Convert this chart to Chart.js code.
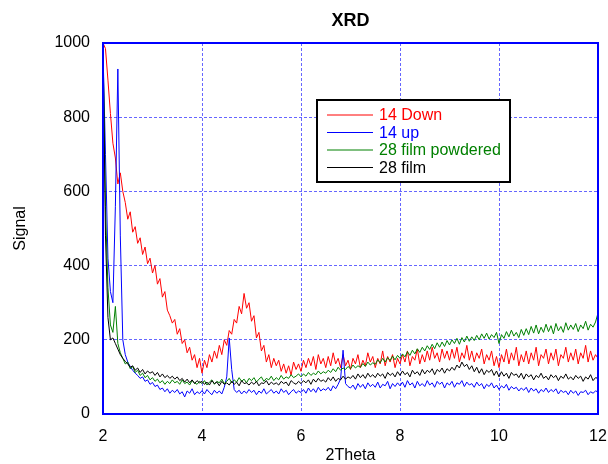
<!DOCTYPE html>
<html>
<head>
<meta charset="utf-8">
<title>XRD</title>
<script src="https://cdn.jsdelivr.net/npm/chart.js@4.4.0/dist/chart.umd.min.js"></script>
<style>
    html, body { margin: 0; padding: 0; background: #fff; }
    canvas { display: block; }
</style>
</head>
<body>
<canvas id="xrdChart" width="608" height="464"></canvas>
<script>
// 2Theta sampling: 2.00 .. 12.00 every 0.05
const angleStart = 2;
const angleStep = 0.05;

const xTicks = [2, 4, 6, 8, 10, 12];
const yTicks = [0, 200, 400, 600, 800, 1000];

const seriesNames = ["14 Down", "14 up", "28 film powdered", "28 film"];
const seriesColors = ["#ff0000", "#0000ff", "#008000", "#000000"];

// 14 Down (each row = 0.5 of 2Theta)
const down14 = [
    1000, 985, 900, 810, 730, 690, 620, 650, 600, 570,
    525, 545, 490, 505, 460, 475, 430, 450, 405, 420,
    380, 400, 350, 365, 315, 330, 280, 265, 245, 255,
    215, 230, 190, 200, 165, 180, 145, 160, 125, 150,
    110, 145, 125, 160, 140, 170, 150, 185, 160, 200,
    185, 225, 215, 255, 245, 290, 270, 325, 285, 300,
    250, 265, 205, 220, 170, 185, 140, 160, 125, 150,
    130, 145, 115, 135, 110, 130, 105, 140, 120, 135,
    115, 145, 125, 150, 130, 155, 120, 160, 135, 150,
    125, 155, 130, 165, 135, 150, 125, 160, 130, 145,
    120, 150, 135, 160, 125, 145, 130, 165, 140, 155,
    125, 150, 135, 170, 130, 155, 140, 160, 125, 150,
    135, 160, 140, 170, 130, 155, 145, 175, 135, 160,
    140, 170, 145, 180, 150, 165, 140, 175, 150, 170,
    145, 175, 150, 180, 140, 165, 150, 185, 145, 170,
    140, 165, 150, 175, 135, 160, 145, 170, 130, 155,
    125, 160, 140, 175, 135, 165, 145, 180, 130, 160,
    140, 170, 135, 165, 145, 180, 130, 160, 150, 175,
    135, 165, 145, 175, 130, 160, 150, 180, 140, 165,
    145, 175, 135, 165, 150, 185, 140, 170, 145, 160,
    150
];

// 14 up
const up14 = [
    980, 700, 420, 330, 300, 560, 930, 480, 200, 160,
    140, 128, 118, 110, 104, 96, 100, 88, 92, 80,
    85, 74, 78, 66, 70, 60, 68, 56, 64, 58,
    66, 54, 60, 46, 62, 56, 68, 52, 60, 55,
    63, 54, 66, 58, 52, 64, 56, 62, 54, 72,
    100, 205, 120, 66, 58, 64, 54, 62, 56, 66,
    58, 64, 52, 62, 56, 68, 54, 60, 66, 56,
    62, 54, 68, 58, 64, 52, 60, 66, 56, 62,
    58, 66, 56, 70, 60, 68, 58, 72, 62, 68,
    64, 72, 62, 76, 68, 80, 95, 172, 82, 74,
    70, 78, 66, 82, 72, 80, 68, 84, 74, 80,
    72, 86, 70, 80, 76, 88, 68, 82, 74, 84,
    76, 86, 72, 90, 78, 84, 70, 88, 76, 82,
    74, 90, 78, 84, 72, 88, 80, 86, 70, 84,
    78, 88, 72, 84, 80, 90, 74, 86, 78, 82,
    72, 86, 76, 82, 68, 80, 74, 84, 70, 78,
    66, 76, 70, 80, 64, 74, 68, 72, 62, 70,
    64, 72, 58, 70, 62, 68, 56, 66, 60, 70,
    58, 66, 60, 68, 54, 64, 58, 62, 52, 64,
    56, 62, 50, 60, 58, 64, 52, 60, 56, 62,
    60
];

// 28 film powdered
const filmPowdered28 = [
    1000, 560, 340, 240, 220, 290, 190, 165, 150, 135,
    140, 122, 128, 112, 118, 104, 110, 98, 104, 92,
    98, 88, 94, 84, 90, 80, 88, 82, 92, 84,
    88, 80, 92, 82, 86, 78, 90, 84, 80, 88,
    82, 90, 78, 86, 92, 80, 88, 84, 94, 82,
    88, 96, 84, 92, 86, 98, 88, 94, 84, 96,
    90, 98, 86, 94, 100, 88, 96, 92, 102, 90,
    98, 92, 104, 94, 100, 96, 106, 98, 102, 108,
    100, 108, 102, 112, 104, 110, 106, 116, 108, 114,
    110, 118, 112, 122, 114, 126, 118, 124, 120, 128,
    122, 132, 124, 130, 126, 136, 128, 140, 132, 138,
    134, 146, 138, 150, 140, 152, 144, 156, 146, 158,
    150, 162, 154, 168, 158, 172, 162, 176, 166, 180,
    170, 184, 174, 188, 176, 192, 180, 194, 182, 198,
    186, 200, 190, 204, 188, 206, 194, 210, 196, 208,
    198, 212, 200, 216, 204, 218, 202, 214, 206, 220,
    190, 214, 204, 222, 208, 226, 210, 220, 206, 228,
    212, 230, 214, 236, 218, 240, 216, 234, 220, 242,
    222, 238, 216, 244, 224, 236, 220, 246, 226, 240,
    228, 244, 222, 240, 230, 250, 226, 242, 234, 248,
    272
];

// 28 film
const film28 = [
    1000, 480, 260, 200, 205, 190, 175, 160, 150, 142,
    135, 126, 130, 118, 124, 112, 120, 108, 116, 110,
    114, 104, 112, 100, 108, 98, 104, 96, 102, 94,
    100, 90, 96, 86, 94, 84, 92, 82, 90, 84,
    88, 80, 86, 78, 90, 82, 86, 76, 88, 80,
    84, 78, 88, 80, 86, 76, 90, 82, 84, 78,
    86, 80, 88, 76, 84, 82, 90, 78, 86, 80,
    84, 78, 88, 82, 86, 76, 90, 84, 80, 88,
    82, 90, 84, 92, 80, 94, 86, 96, 88, 92,
    86, 98, 90, 100, 88, 96, 92, 102, 94, 100,
    96, 104, 94, 108, 98, 106, 96, 110, 100, 106,
    98, 110, 102, 108, 96, 112, 104, 110, 100, 114,
    104, 116, 106, 112, 100, 118, 108, 114, 104, 120,
    108, 118, 112, 122, 106, 120, 114, 124, 110, 122,
    116, 126, 118, 132, 124, 140, 128, 134, 120, 130,
    114, 126, 110, 122, 106, 118, 112, 120, 104, 116,
    100, 114, 102, 110, 96, 112, 104, 108, 98, 110,
    94, 108, 100, 106, 92, 104, 98, 110, 96, 102,
    92, 106, 98, 104, 90, 102, 96, 108, 94, 100,
    92, 104, 96, 102, 88, 100, 94, 106, 90, 98,
    96
];

const seriesValues = [down14, up14, filmPowdered28, film28];

const fontFamily = "'Liberation Sans', Arial, Helvetica, sans-serif";
const gridBlue = "rgba(0, 0, 255, 0.6)";

function toPoints(values) {
    return values.map((v, i) => ({ x: angleStart + i * angleStep, y: v }));
}

// frame on top/right + boxed legend inside plot
const framePlugin = {
    id: "frameAndLegend",
    afterDatasetsDraw(chart) {
        const { ctx, chartArea } = chart;
        ctx.save();
        ctx.strokeStyle = "#0000ff";
        ctx.lineWidth = 2;
        ctx.strokeRect(chartArea.left, chartArea.top, chartArea.right - chartArea.left, chartArea.bottom - chartArea.top);

        // legend box
        const bx = chartArea.left + 214;
        const by = chartArea.top + 57;
        const bw = 193;
        const bh = 82;
        ctx.fillStyle = "#ffffff";
        ctx.fillRect(bx, by, bw, bh);
        ctx.strokeStyle = "#000000";
        ctx.lineWidth = 2;
        ctx.strokeRect(bx, by, bw, bh);

        ctx.font = "16px " + fontFamily;
        ctx.textBaseline = "middle";
        ctx.textAlign = "left";
        seriesNames.forEach((name, i) => {
            const rowY = by + 15 + i * 17.5;
            ctx.strokeStyle = seriesColors[i];
            ctx.lineWidth = 1;
            ctx.beginPath();
            ctx.moveTo(bx + 10, rowY);
            ctx.lineTo(bx + 56, rowY);
            ctx.stroke();
            ctx.fillStyle = seriesColors[i];
            ctx.fillText(name, bx + 62, rowY + 1);
        });
        ctx.restore();
    }
};

const ctx = document.getElementById("xrdChart").getContext("2d");

const datasets = seriesNames.map((name, i) => ({
    label: name,
    data: toPoints(seriesValues[i]),
    borderColor: seriesColors[i],
    borderWidth: 1,
    pointRadius: 0,
    fill: false,
    tension: 0,
    order: seriesNames.length - 1 - i
}));

const xrdChart = new Chart(ctx, {
    type: "line",
    data: { datasets: datasets },
    options: {
        responsive: false,
        animation: false,
        layout: { padding: { left: 0, right: 10, top: 0, bottom: 0 } },
        plugins: {
            legend: { display: false },
            tooltip: { enabled: false },
            title: {
                display: true,
                text: "XRD",
                color: "#000",
                fullSize: false,
                font: { family: fontFamily, size: 18, weight: "bold", lineHeight: 1.2 },
                padding: { top: 10, bottom: 11.4 }
            }
        },
        scales: {
            x: {
                type: "linear",
                min: 2,
                max: 12,
                afterBuildTicks: (scale) => { scale.ticks = xTicks.map(v => ({ value: v })); },
                afterFit: (scale) => {
                    scale.height = 50;
                    scale.paddingLeft = 0;
                    scale.paddingRight = 0;
                },
                ticks: {
                    color: "#000",
                    padding: 13,
                    maxRotation: 0,
                    font: { family: fontFamily, size: 16 },
                    callback: (v) => String(v)
                },
                grid: { color: gridBlue, lineWidth: 1, drawTicks: false },
                border: { color: "#0000ff", width: 2, dash: [3, 2] },
                title: {
                    display: true,
                    text: "2Theta",
                    color: "#000",
                    font: { family: fontFamily, size: 16, lineHeight: 1 },
                    padding: { top: 0, bottom: 0 }
                }
            },
            y: {
                min: 0,
                max: 1000,
                afterBuildTicks: (scale) => { scale.ticks = yTicks.map(v => ({ value: v })); },
                afterFit: (scale) => {
                    scale.width = 103;
                    scale.paddingTop = 0;
                    scale.paddingBottom = 0;
                },
                ticks: {
                    color: "#000",
                    padding: 13,
                    font: { family: fontFamily, size: 16 },
                    callback: (v) => String(v)
                },
                grid: { color: gridBlue, lineWidth: 1, drawTicks: false },
                border: { color: "#0000ff", width: 2, dash: [3, 2] },
                title: {
                    display: true,
                    text: "Signal",
                    color: "#000",
                    font: { family: fontFamily, size: 16, lineHeight: 1.2 },
                    padding: { top: 11, bottom: 0 }
                }
            }
        }
    },
    plugins: [framePlugin]
});
</script>
</body>
</html>
